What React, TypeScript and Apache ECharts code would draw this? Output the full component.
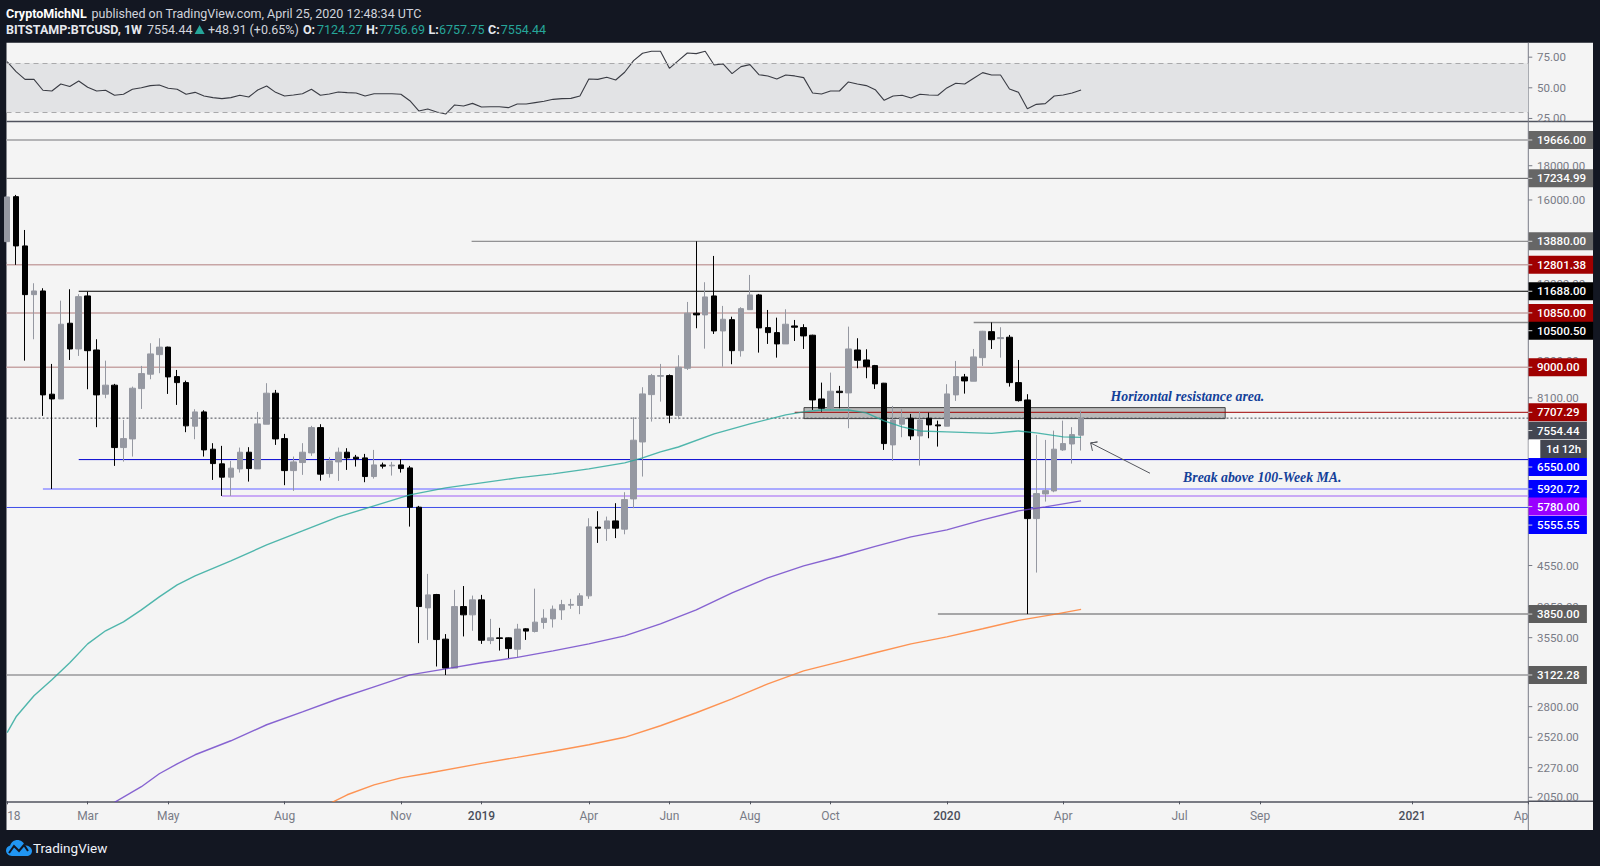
import React, { useEffect, useRef } from "react";
import * as echarts from "echarts";

// ---------- data ----------
// weekly bars from the first week of January 2018: [open, close, low, high]
const candles: number[][] = [
  [13863,16167,12930,16280],[16184,13660,12800,16280],[13660,11553,9206,14431],[11553,11700,9909,12015],
  [11700,8183,7613,11810],[8203,8070,5921,9103],[8070,10435,8070,11316],[10471,9584,9228,11769],
  [9584,11474,9357,11569],[11502,9528,8344,11673],[9551,8183,7323,9909],[8203,8461,8090,9206],
  [8461,6827,6410,8499],[6827,7041,6505,7508],[7033,8373,6619,8420],[8362,8805,7797,9041],
  [8787,9422,8636,9775],[9399,9645,8817,9944],[9645,8705,8211,9660],[8714,8536,7906,8916],
  [8536,7356,7198,8595],[7348,7718,7026,7790],[7718,6772,6619,7762],[6789,6461,6108,6931],
  [6455,6166,5780,6867],[6166,6360,5780,6521],[6344,6719,6264,6827],[6719,6351,6073,6836],
  [6344,7406,6344,7718],[7398,8231,7398,8519],[8231,7033,6890,8324],[7041,6307,5998,7156],
  [6307,6499,5881,6619],[6484,6719,6215,6931],[6703,7312,6635,7356],[7312,6230,6094,7398],
  [6243,6521,6157,6605],[6499,6719,6087,6827],[6719,6589,6322,6812],[6605,6566,6395,6657],
  [6589,6179,6060,6680],[6179,6432,6136,6772],[6432,6404,6351,6483],[6410,6426,6200,6499],
  [6432,6351,6264,6559],[6366,5561,5202,6410],[5561,3951,3484,5586],[3933,4113,3523,4421],
  [4118,3527,3215,4127],[3532,3197,3122,3594],[3197,3951,3197,4184],[3951,3840,3565,4240],
  [3840,4043,3635,4103],[4043,3519,3475,4113],[3515,3548,3472,3787],[3548,3540,3396,3672],
  [3548,3419,3309,3552],[3412,3656,3320,3723],[3660,3631,3523,3668],[3626,3745,3614,4202],
  [3740,3796,3660,3915],[3787,3915,3676,3965],[3906,3977,3774,4043],[3970,3980,3920,4057],
  [3966,4099,3849,4137],[4099,5197,4057,5354],[5192,5174,4918,5485],[5166,5305,4952,5384],
  [5305,5174,5000,5638],[5156,5708,5066,5855],[5722,7002,5542,7578],[6960,8211,6179,8402],
  [8191,8744,7465,8795],[8726,8744,7996,9103],[8744,7631,7424,8780],[7621,9000,7526,9380],
  [8969,10838,8916,11266],[10838,10775,10292,13880],[10775,11462,9594,12057],[11502,10196,10092,13198],
  [10196,10615,9019,11113],[10600,9528,9094,10708],[9528,11010,9335,11064],[10971,11541,10971,12363],
  [11541,10303,9464,11581],[10314,10138,9751,10960],[10138,9751,9302,10674],[9751,10435,9751,10986],
  [10374,10328,9851,10589],[10314,10023,9584,10435],[10048,8042,7770,10065],[8070,7816,7725,8536],
  [7816,8287,7770,8835],[8287,8248,7816,8441],[8239,9584,7297,10349],[9551,9219,8969,9944],
  [9228,9019,8666,9574],[9050,8499,8353,9072],[8519,6921,6772,8528],[6890,7508,6521,7878],
  [7398,7552,7074,7797],[7552,7107,7009,7665],[7107,7508,6417,7720],[7552,7381,7050,7700],
  [7381,7356,6850,7490],[7348,8211,7348,8490],[8183,8714,8015,9197],[8705,8586,8219,8795],
  [8577,9325,8577,9584],[9302,10186,9041,10200],[10172,9895,9584,10500],[9930,9965,9302,10328],
  [9979,8536,8420,10058],[8536,8023,7996,9228],[8042,5347,3850,8203],[5347,5827,4441,7130],
  [5821,5887,5669,7009],[5881,6789,5855,7237],[6772,6921,6750,7490],[6912,7138,6461,7323],
  [7124.27,7554.44,6757.75,7756.69],
];

const rsiValues = [
  71.4,63.2,56.9,56.9,48.0,47.4,53.1,51.0,55.6,50.4,47.4,48.0,43.9,44.7,48.8,50.1,51.8,52.3,49.6,48.8,
  44.7,46.3,43.3,42.0,41.2,42.0,43.9,42.5,48.2,51.5,46.3,43.3,44.1,45.2,48.8,43.9,45.0,46.6,46.1,45.8,
  43.3,45.2,45.2,45.2,44.7,39.5,31.1,32.7,30.3,28.6,36.0,35.2,37.3,34.4,34.6,34.6,33.8,36.8,36.8,37.9,
  39.0,40.6,41.2,41.4,43.3,57.2,56.9,58.6,56.4,62.7,72.2,78.2,79.8,79.8,65.9,72.2,78.4,77.9,79.8,68.6,
  69.5,61.6,67.3,68.9,60.7,59.7,57.2,60.5,59.7,58.3,45.8,45.0,47.4,47.4,54.8,53.1,51.8,48.5,39.8,43.3,
  43.9,41.7,44.7,44.1,43.9,49.9,53.7,53.1,57.8,62.4,60.5,60.5,49.0,46.3,33.0,36.5,37.1,43.3,44.1,45.8,48.2,
];

// moving averages, read at the listed weeks
const ma50Weeks = [0,1,3,5,7,9,11,13,15,17,19,21,25,29,33,37,41,45,49,53,57,61,65,69,71,73,75,79,83,87,89,91,94,96,98,100,102,105,110,113,115,118,120];
const ma50Values = [2560,2704,2907,3071,3256,3475,3635,3749,3906,4085,4257,4391,4623,4885,5125,5378,5585,5801,5943,6046,6151,6236,6344,6477,6589,6726,6841,7156,7406,7639,7718,7770,7770,7691,7483,7330,7229,7205,7168,7229,7180,7082,7070];
const ma100Weeks = [12,15,17,19,21,25,29,33,37,41,45,49,53,57,61,65,69,73,77,81,85,89,93,97,101,105,109,113,116,120];
const ma100Values = [2015,2126,2223,2300,2373,2490,2631,2751,2877,2998,3124,3189,3256,3318,3393,3475,3572,3723,3906,4142,4361,4544,4694,4860,5021,5143,5323,5491,5567,5683];
const ma200Weeks = [36,38,41,44,47,53,57,61,65,69,73,77,81,85,89,93,97,101,105,109,113,117,120];
const ma200Values = [2005,2068,2140,2192,2227,2304,2352,2402,2456,2520,2622,2742,2877,3029,3167,3267,3370,3475,3560,3660,3767,3846,3913];

const levelValues = [19666,17234.99,13880,12801.38,11688,10850,10500.5,9000,7707.29,6550,5920.72,5780,5555.55,3850,3122.28];
const levelStartWeeks = [-1,-1,51.9,-1,8,-1,108,-1,88,8,4,24,-1,104,-1];
const lastPrice = 7554.44;
const countdownText = "1d 12h";

const rsiTicks = [75,50,25];
const priceTicks = [18000,16000,12000,9200,8100,4550,3950,3550,2800,2520,2270,2050];
const timeTickWeeks = [0,9,18,31,44,53,65,74,83,92,105,118,131,140,157,169.97];
const timeTickNames = ["18","Mar","May","Aug","Nov","2019","Apr","Jun","Aug","Oct","2020","Apr","Jul","Sep","2021","Ap"];

const zoneWeeks = [89.04,136.1];
const zonePrices = [7833,7542];
const arrowWeeks = [127.7,121.07,121.83,121.07,121.27];
const arrowPrices = [6250,6936,6960,6936,6750];
const noteTexts = ["Horizontal resistance area.","Break above 100-Week MA."];
const noteWeeks = [123.3,131.4];
const notePrices = [8135,6157];

// ---------- styles ----------
const levelStyles = [
  { color:"#b4b4b6", width:2, tag:"#666666", shift:0, wide:true },
  { color:"#5a5a5e", width:1, tag:"#666666", shift:0, wide:true },
  { color:"#77777a", width:1, tag:"#666666", shift:0, wide:true },
  { color:"#c7a5a5", width:1.5, tag:"#a00000", shift:0, wide:true },
  { color:"#000000", width:1, tag:"#000000", shift:0, wide:true },
  { color:"#c7a5a5", width:1.5, tag:"#a00000", shift:0, wide:true },
  { color:"#8a8a8c", width:1.5, tag:"#000000", shift:8.3, wide:true },
  { color:"#c7a5a5", width:1.5, tag:"#a00000", shift:0, wide:false },
  { color:"#a00000", width:1, tag:"#a00000", shift:0, wide:false },
  { color:"#0000d0", width:1, tag:"#0000ff", shift:7.4, wide:false },
  { color:"#aaaaff", width:2, tag:"#0000ff", shift:0, wide:false },
  { color:"#c9aaf5", width:2, tag:"#9900ff", shift:10.6, wide:false },
  { color:"#3d4de8", width:1, tag:"#0000ff", shift:17.6, wide:false },
  { color:"#8c8c8e", width:1.5, tag:"#5d5d5d", shift:0, wide:false },
  { color:"#99999b", width:1.5, tag:"#5d5d5d", shift:0, wide:false },
];
const DARK = "#131722";
const PANEL = "#f4f4f4";
const UI_FONT = "Roboto, sans-serif";
const AXIS = "#50535e";
const X_MIN = -0.07;
const X_MAX = 169.97;
const L = 6.5, R = 1528.3, T1 = 42.7, B1 = 121.4, T2 = 122, B2 = 801.3;
const PRICE_MIN = 2022, PRICE_MAX = 20922;

echarts.graphic.registerShape(
  "tvCloud",
  echarts.graphic.extendPath("M6 16C2.5 16 0 13.6 0 10.6C0 8 1.8 6 4.2 5.5C5.2 2.2 8 0 11.4 0C14.8 0 17.7 2.2 18.7 5.2C22.6 5.3 26 7.6 26 11C26 14 23.6 16 20.6 16Z", {})
);

function header(text: string, x: number, y: number, fill: string, bold = false) {
  return { type: "text", x, y, silent: true, style: { text, fill, font: `${bold ? "bold " : ""}12.5px ${UI_FONT}`, verticalAlign: "middle" } };
}

function buildOption() {
  const both = (week: number[], vals: number[]) => week.map((w, i) => [w, vals[i]]);
  const maSeries = (name: string, weeks: number[], vals: number[], color: string) => ({
    name, type: "line", xAxisIndex: 1, yAxisIndex: 1, data: both(weeks, vals), symbol: "none", z: 4,
    lineStyle: { color, width: 1.4, opacity: 0.8 }, silent: true,
  });
  const levels = levelValues.map((v, i) => ({
    type: "line", xAxisIndex: 1, yAxisIndex: 1, symbol: "none", silent: true, z: 2,
    data: [[levelStartWeeks[i] < 0 ? X_MIN : levelStartWeeks[i], v], [X_MAX, v]],
    lineStyle: { color: levelStyles[i].color, width: levelStyles[i].width },
  }));
  return {
    animation: false,
    backgroundColor: DARK,
    grid: [
      { left: L, top: T1, width: R - L, height: B1 - T1 },
      { left: L, top: T2, width: R - L, height: B2 - T2 },
    ],
    xAxis: [
      { type: "value", gridIndex: 0, min: X_MIN, max: X_MAX, show: false },
      {
        type: "value", gridIndex: 1, min: X_MIN, max: X_MAX,
        splitLine: { show: false },
        axisLine: { show: true, onZero: false, lineStyle: { color: AXIS, width: 1.5 } },
        axisTick: { show: true, length: 3, customValues: timeTickWeeks, lineStyle: { color: AXIS } },
        axisLabel: {
          show: true, customValues: timeTickWeeks, margin: 9, alignMinLabel: "left", alignMaxLabel: "right",
          showMinLabel: true, showMaxLabel: true, hideOverlap: false,
          fontFamily: UI_FONT, fontSize: 12, color: "#787b86",
          formatter: (v: number) => {
            const i = timeTickWeeks.findIndex((w) => Math.abs(w - v) < 0.01);
            const name = i < 0 ? "" : timeTickNames[i];
            return /^20\d\d$/.test(name) ? `{y|${name}}` : name;
          },
          rich: { y: { color: "#4a4e5a", fontFamily: UI_FONT, fontSize: 12, fontWeight: 500 } },
        },
      },
    ],
    yAxis: [
      { type: "value", gridIndex: 0, min: 22.6, max: 86.8, show: false },
      { type: "log", gridIndex: 1, min: PRICE_MIN, max: PRICE_MAX, show: false },
    ],
    graphic: [
      { type: "rect", silent: true, shape: { x: L, y: T1, width: 1593 - L, height: 830 - T1 }, style: { fill: PANEL } },
      { type: "line", silent: true, shape: { x1: L, y1: B1, x2: 1593, y2: B1 }, style: { stroke: AXIS, lineWidth: 1.5 } },
      { type: "line", silent: true, shape: { x1: 1593, y1: B2, x2: R, y2: B2 }, style: { stroke: AXIS, lineWidth: 1.5 } },
      { type: "line", silent: true, shape: { x1: R, y1: T1, x2: R, y2: 830 }, style: { stroke: "#787b86", lineWidth: 1 } },
      header("CryptoMichNL", 6, 13, "#ffffff", true),
      header("published on TradingView.com, April 25, 2020 12:48:34 UTC", 91.5, 13, "#d1d4dc"),
      header("BITSTAMP:BTCUSD, 1W", 6, 29.5, "#e6e8ee", true),
      header("7554.44", 147, 29.5, "#d1d4dc"),
      { type: "polygon", silent: true, shape: { points: [[194.6, 34], [204.6, 34], [199.6, 25]] }, style: { fill: "#26a69a" } },
      header("+48.91 (+0.65%)", 208, 29.5, "#d1d4dc"),
      header("O:", 303, 29.5, "#e6e8ee", true),
      header("7124.27", 317, 29.5, "#26a69a"),
      header("H:", 366, 29.5, "#e6e8ee", true),
      header("7756.69", 379.5, 29.5, "#26a69a"),
      header("L:", 428.5, 29.5, "#e6e8ee", true),
      header("6757.75", 439, 29.5, "#26a69a"),
      header("C:", 488, 29.5, "#e6e8ee", true),
      header("7554.44", 500.7, 29.5, "#26a69a"),
      { type: "tvCloud", x: 6, y: 840, silent: true, style: { fill: "#2196f3" } },
      { type: "polyline", silent: true, shape: { points: [[9, 853], [14, 846], [19, 851], [24, 845], [28, 851]] }, style: { stroke: DARK, lineWidth: 2, fill: "none" } },
      { type: "text", x: 33, y: 848, silent: true, style: { text: "TradingView", fill: "#f0f3fa", font: `13.5px ${UI_FONT}`, verticalAlign: "middle" } },
    ],
    series: [
      {
        name: "RSI", type: "line", xAxisIndex: 0, yAxisIndex: 0, symbol: "none", silent: true, z: 3,
        data: rsiValues.map((v, i) => [i, v]),
        lineStyle: { color: "#3a3c44", width: 1.1 },
        markArea: { silent: true, itemStyle: { color: "#e2e3e5" }, data: [[{ yAxis: 30 }, { yAxis: 70 }]] },
        markLine: {
          silent: true, symbol: "none", label: { show: false },
          lineStyle: { color: "#a9a9ab", type: [5, 4], width: 1 },
          data: [{ yAxis: 70 }, { yAxis: 30 }],
        },
      },
      {
        name: "zone", type: "line", xAxisIndex: 1, yAxisIndex: 1, symbol: "none", silent: true, z: 1,
        data: [],
        markArea: {
          silent: true,
          itemStyle: { color: "#b9b9b9", borderColor: "#444444", borderWidth: 1 },
          data: [[{ coord: [zoneWeeks[0], zonePrices[0]] }, { coord: [zoneWeeks[1], zonePrices[1]] }]],
        },
      },
      ...levels,
      {
        name: "last", type: "line", xAxisIndex: 1, yAxisIndex: 1, symbol: "none", silent: true, z: 2,
        data: [[X_MIN, lastPrice], [X_MAX, lastPrice]],
        lineStyle: { color: "#434651", width: 1, type: [2, 2] },
      },
      {
        name: "BTCUSD", type: "candlestick", xAxisIndex: 1, yAxisIndex: 1, silent: true, z: 3,
        barWidth: 6,
        encode: { x: 0, y: [1, 2, 3, 4] },
        data: candles.map((c, i) => [i, ...c]),
        itemStyle: { color: "#9598a1", color0: "#000000", borderColor: "#9598a1", borderColor0: "#000000", borderWidth: 1 },
      },
      maSeries("MA50", ma50Weeks, ma50Values, "#26a69a"),
      maSeries("MA100", ma100Weeks, ma100Values, "#6a3fc8"),
      maSeries("MA200", ma200Weeks, ma200Values, "#ff7a2a"),
      {
        name: "arrow", type: "line", xAxisIndex: 1, yAxisIndex: 1, symbol: "none", silent: true, z: 5,
        data: both(arrowWeeks, arrowPrices), lineStyle: { color: "#55575e", width: 1 },
      },
      {
        name: "notes", type: "custom", xAxisIndex: 1, yAxisIndex: 1, silent: true, z: 6,
        encode: { x: 0, y: 1 },
        data: both(noteWeeks, notePrices),
        renderItem: (p: any, api: any) => {
          const [x, y] = api.coord([api.value(0), api.value(1)]);
          return {
            type: "text",
            style: { x, y, text: noteTexts[p.dataIndex], fill: "#134099", font: 'italic bold 13.8px "Liberation Serif", serif', verticalAlign: "middle" },
          };
        },
      },
      {
        name: "rsiTicks", type: "custom", xAxisIndex: 0, yAxisIndex: 0, silent: true, z: 4,
        encode: { x: 0, y: 1 },
        data: rsiTicks.map((t) => [X_MAX, t]),
        renderItem: (p: any, api: any) => {
          const [x, y] = api.coord([api.value(0), api.value(1)]);
          return {
            type: "group",
            clipPath: { type: "rect", shape: { x: x, y: p.coordSys.y, width: 70, height: p.coordSys.height } },
            children: [
              { type: "line", shape: { x1: x, y1: y, x2: x + 4, y2: y }, style: { stroke: "#787b86", lineWidth: 1 } },
              { type: "text", style: { x: x + 8.7, y, text: api.value(1).toFixed(2), fill: "#787b86", font: `11.5px ${UI_FONT}`, verticalAlign: "middle" } },
            ],
          };
        },
      },
      {
        name: "priceTicks", type: "custom", xAxisIndex: 1, yAxisIndex: 1, silent: true, z: 4,
        encode: { x: 0, y: 1 },
        data: priceTicks.map((t) => [X_MAX, t]),
        renderItem: (_p: any, api: any) => {
          const [x, y] = api.coord([api.value(0), api.value(1)]);
          return {
            type: "group",
            children: [
              { type: "line", shape: { x1: x, y1: y, x2: x + 4, y2: y }, style: { stroke: "#787b86", lineWidth: 1 } },
              { type: "text", style: { x: x + 8.7, y, text: api.value(1).toFixed(2), fill: "#787b86", font: `11.5px ${UI_FONT}`, verticalAlign: "middle" } },
            ],
          };
        },
      },
      {
        name: "tags", type: "custom", xAxisIndex: 1, yAxisIndex: 1, silent: true, z: 7,
        encode: { x: 0, y: 1 },
        data: levelValues.map((v) => [X_MAX, v]),
        renderItem: (p: any, api: any) => {
          const [x, y0] = api.coord([api.value(0), api.value(1)]);
          const s = levelStyles[p.dataIndex];
          const y = y0 + s.shift;
          return {
            type: "group",
            children: [
              { type: "rect", shape: { x: x + 0.3, y: y - 9, width: s.wide ? 64.5 : 58.3, height: 18 }, style: { fill: s.tag } },
              { type: "line", shape: { x1: x, y1: y, x2: x + 4, y2: y }, style: { stroke: "#d8d8d8", lineWidth: 1 } },
              { type: "text", style: { x: x + 8.7, y, text: api.value(1).toFixed(2), fill: "#ffffff", font: `500 11.5px ${UI_FONT}`, verticalAlign: "middle" } },
            ],
          };
        },
      },
      {
        name: "lastTag", type: "custom", xAxisIndex: 1, yAxisIndex: 1, silent: true, z: 8,
        encode: { x: 0, y: 1 },
        data: [[X_MAX, lastPrice]],
        renderItem: (_p: any, api: any) => {
          const [x, y0] = api.coord([api.value(0), api.value(1)]);
          const y = y0 + 12.4;
          return {
            type: "group",
            children: [
              { type: "rect", shape: { x: x + 0.3, y: y - 8.7, width: 58.3, height: 17.4 }, style: { fill: "#434651" } },
              { type: "line", shape: { x1: x, y1: y, x2: x + 4, y2: y }, style: { stroke: "#d8d8d8", lineWidth: 1 } },
              { type: "text", style: { x: x + 8.7, y, text: api.value(1).toFixed(2), fill: "#ffffff", font: `500 11.5px ${UI_FONT}`, verticalAlign: "middle" } },
              { type: "rect", shape: { x: x + 0.3, y: y + 9.5, width: 11.7, height: 18 }, style: { fill: "#ffffff" } },
              { type: "rect", shape: { x: x + 12, y: y + 9.5, width: 46.6, height: 18 }, style: { fill: "#434651" } },
              { type: "text", style: { x: x + 35.3, y: y + 18.5, text: countdownText, fill: "#ffffff", font: `500 11.5px ${UI_FONT}`, align: "center", verticalAlign: "middle" } },
            ],
          };
        },
      },
    ],
  };
}

export default function App() {
  const ref = useRef<HTMLDivElement>(null);
  useEffect(() => {
    const chart = echarts.init(ref.current!, undefined, { renderer: "svg" });
    chart.setOption(buildOption() as any);
    return () => chart.dispose();
  }, []);
  return <div ref={ref} style={{ position: "fixed", left: 0, top: 0, width: 1600, height: 866 }} />;
}
